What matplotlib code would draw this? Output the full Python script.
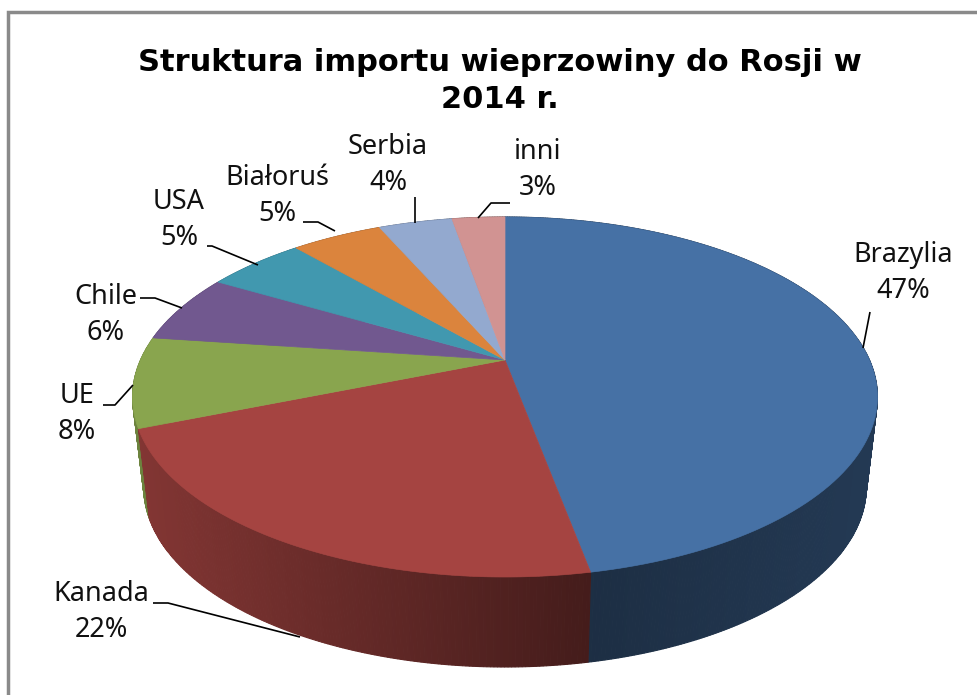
import numpy as np
import matplotlib
matplotlib.use("Agg")
import matplotlib.pyplot as plt
from matplotlib.patches import Polygon, Rectangle
from matplotlib.colors import to_rgb

title = "Struktura importu wieprzowiny do Rosji w\n2014 r."
categories = ["Brazylia", "Kanada", "UE", "Chile", "USA", "Białoruś", "Serbia", "inni"]
values = [47, 22, 8.1, 6.2, 5.2, 4.8, 3.9, 2.8]
colors = ["#4671a5", "#a54441", "#89a54e", "#71588f", "#4198af", "#db843d", "#93a9cf", "#d19392"]
label_pos = [(903, 273), (101, 612), (77, 414), (106, 315), (179, 220), (277, 196), (388, 165), (538, 170)]
leaders = [
    [(863, 348), (870, 312)],
    [(300, 637), (168, 603), (153, 603)],
    [(133, 385), (115, 405), (103, 405)],
    [(182, 308), (155, 298), (140, 298)],
    [(258, 265), (212, 246), (207, 246)],
    [(335, 231), (318, 222), (303, 222)],
    [(415, 223), (415, 197)],
    [(478, 218), (491, 203), (510, 203)],
]

W, H = 977, 695
fig = plt.figure(figsize=(W / 100, H / 100), dpi=100, facecolor="white")
ax = fig.add_axes([0, 0, 1, 1])
ax.set_xlim(0, W)
ax.set_ylim(H, 0)
ax.axis("off")

ax.add_patch(Rectangle((8, 12), W + 20, H + 20, fc="white", ec="#8a8a8a", lw=2.5, zorder=0))

cx, cy, a, b, k = 505, 360, 364.5, 172.4, 0.2055
depth, shrink = 90, 0.97


def top(theta):
    u, v = np.sin(theta), np.cos(theta)
    d = 1 + k * v
    return cx + a * u / d, cy - b * v / d


def bottom(theta):
    x, y = top(theta)
    return cx + (x - cx) * shrink, y + depth


def shade(x):
    # lighting of the side wall across the width of the pie
    f = (x - 132) / 745
    return 0.80 - 0.39 * np.clip(f / 0.62, 0, 1) + 0.10 * np.clip((f - 0.62) / 0.38, 0, 1)


edges = 2 * np.pi * np.concatenate([[0], np.cumsum(values)]) / np.sum(values)

# side wall, painted from back to front
quads = []
for i in range(len(values)):
    ts = np.linspace(edges[i], edges[i + 1], max(2, int(values[i] * 8)))
    for t0, t1 in zip(ts[:-1], ts[1:]):
        x0, y0 = top(t0)
        x1, y1 = top(t1)
        x2, y2 = bottom(t1)
        x3, y3 = bottom(t0)
        quads.append(((y0 + y1) / 2, [(x0, y0), (x1, y1), (x2, y2), (x3, y3)], i))
quads.sort(key=lambda q: q[0])
for _, pts, i in quads:
    xm = np.mean([p[0] for p in pts])
    col = np.clip(np.array(to_rgb(colors[i])) * shade(xm), 0, 1)
    ax.add_patch(Polygon(pts, closed=True, fc=col, ec=col, lw=0.8, zorder=1))

# top faces
for i in range(len(values)):
    ts = np.linspace(edges[i], edges[i + 1], 120)
    xs, ys = top(ts)
    pts = [(cx, cy)] + list(zip(xs, ys))
    ax.add_patch(Polygon(pts, closed=True, fc=colors[i], ec=colors[i], lw=0.5, zorder=2))

for pts in leaders:
    ax.plot(*zip(*pts), color="black", lw=1.2, zorder=3, solid_capstyle="butt")

for name, val, (x, y) in zip(categories, values, label_pos):
    ax.text(x, y, f"{name}\n{val:.0f}%", ha="center", va="center", fontsize=19.5,
            family=["Noto Sans", "DejaVu Sans"], color="#111111", linespacing=1.42, zorder=4)

ax.text(500, 81, title, ha="center", va="center", fontsize=22, fontweight="bold",
        family="DejaVu Sans", color="black", linespacing=1.32, zorder=4)

fig.savefig("out.png", dpi=100)
